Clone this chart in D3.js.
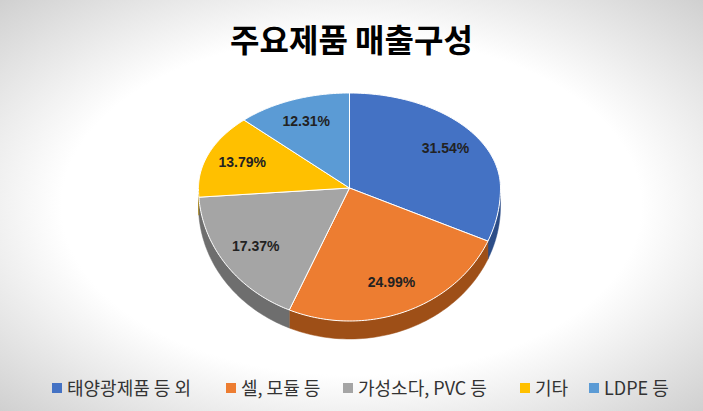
<!DOCTYPE html>
<html><head><meta charset="utf-8">
<script src="https://cdn.jsdelivr.net/npm/d3@7"></script>
<style>body{margin:0}svg{display:block}</style>
</head><body>
<script>
const categories = ["태양광제품 등 외", "셀, 모듈 등", "가성소다, PVC 등", "기타", "LDPE 등"];
const values = [31.54, 24.99, 17.37, 13.79, 12.31];
const colors = ["#4472c4", "#ed7d31", "#a5a5a5", "#ffc000", "#5b9bd5"];
const sideColors = ["#2c4d87", "#9e4f17", "#6e6e6e", "#a87f00", "#396a96"];
const labels = ["31.54%", "24.99%", "17.37%", "13.79%", "12.31%"];

const W = 703, H = 411;
const svg = d3.select("body").append("svg").attr("width", W).attr("height", H);
const defs = svg.append("defs");
const g = defs.append("radialGradient").attr("id", "bg").attr("cx", "50%").attr("cy", "50%").attr("r", "75%");
g.append("stop").attr("offset", "0.55").attr("stop-color", "#ffffff");
g.append("stop").attr("offset", "1").attr("stop-color", "#c9c9c9");
svg.append("rect").attr("width", W).attr("height", H).attr("fill", "url(#bg)");

svg.append("text").attr("x", W / 2).attr("y", 52).attr("text-anchor", "middle")
  .attr("font-family", "Noto Sans CJK KR").attr("font-weight", "bold").attr("font-size", 32)
  .text("주요제품 매출구성");

const cx = 349.5, cy = 188, rx = 151, ryTop = 95, ryBot = 133, depth = 18;
const pie = d3.pie().sort(null).value(d => d);
const arcs = pie(values);
const pt = (a, dy = 0, f = 1) => {
  const c = Math.cos(a);
  return [cx + f * rx * Math.sin(a), cy - f * (c > 0 ? ryTop : ryBot) * c + dy];
};

arcs.forEach((d, i) => {
  const a0 = Math.max(d.startAngle, Math.PI / 2), a1 = Math.min(d.endAngle, 3 * Math.PI / 2);
  if (a1 <= a0) return;
  const n = 60, top = [], bot = [];
  for (let k = 0; k <= n; k++) {
    const a = a0 + (a1 - a0) * k / n;
    top.push(pt(a)); bot.push(pt(a, depth));
  }
  const poly = top.concat(bot.reverse());
  svg.append("path").attr("d", "M" + poly.map(p => p.join(",")).join("L") + "Z")
    .attr("fill", sideColors[i]).attr("stroke", sideColors[i]).attr("stroke-width", 0.5);
});
arcs.forEach((d, i) => {
  const n = 80, pts = [[cx, cy]];
  for (let k = 0; k <= n; k++) pts.push(pt(d.startAngle + (d.endAngle - d.startAngle) * k / n));
  svg.append("path").attr("d", "M" + pts.map(p => p.join(",")).join("L") + "Z")
    .attr("fill", colors[i]).attr("stroke", "#fff").attr("stroke-width", 1);
});
arcs.forEach((d, i) => {
  const a = (d.startAngle + d.endAngle) / 2;
  const [x, y] = pt(a, 0, 0.76);
  svg.append("text").attr("x", x).attr("y", y + 5).attr("text-anchor", "middle")
    .attr("font-family", "Liberation Sans, Arial").attr("font-weight", "bold").attr("font-size", 14)
    .attr("fill", "#222").text(labels[i]);
});
const lx = [52, 226, 343, 520, 589];
categories.forEach((c, i) => {
  svg.append("rect").attr("x", lx[i]).attr("y", 383).attr("width", 10).attr("height", 10).attr("fill", colors[i]);
  svg.append("text").attr("x", lx[i] + 15).attr("y", 395).attr("font-family", "Noto Sans CJK KR")
    .attr("font-size", 18).attr("fill", "#333").text(c);
});
</script>
</body></html>
